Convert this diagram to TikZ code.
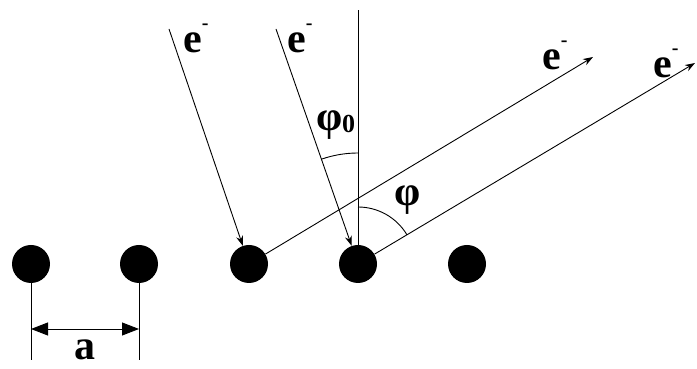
\documentclass[tikz,border=0pt]{standalone}
\usepackage{fontspec}
\setmainfont{Liberation Serif}
\usetikzlibrary{arrows.meta}
\begin{document}
\begin{tikzpicture}[x=1pt,y=1pt,
  atom/.style={circle,fill=black,inner sep=0pt,minimum size=38pt},
  ray/.style={line width=0.9pt,-{Stealth[length=10pt,width=7pt]}},
  thin line/.style={line width=0.9pt},
  lbl/.style={inner sep=0pt,font=\fontsize{42}{42}\selectfont\bfseries},
  dim/.style={line width=0.9pt,{Triangle[length=17pt,width=13pt]}-{Triangle[length=17pt,width=13pt]}}]
\useasboundingbox (0,0) rectangle (697,369);
% atoms
\node[atom] (d1) at (31,105) {};
\node[atom] (d2) at (139,105) {};
\node[atom] (d3) at (249,105) {};
\node[atom] (d4) at (358,105) {};
\node[atom] (d5) at (467,105) {};
% coordinates
\coordinate (s1) at (169,340);
\coordinate (s2) at (276,340);
\coordinate (t1) at (593,312);
\coordinate (t2) at (695,306);
\coordinate (top) at (358,359);
\coordinate (b1) at (31,9);
\coordinate (b2) at (139,9);
\coordinate (m1) at (31,40);
\coordinate (m2) at (139,40);
% normal
\draw[thin line] (d4.north) -- (top);
% incident rays
\draw[ray] (s1) -- (d3);
\draw[ray] (s2) -- (d4);
% outgoing rays
\draw[ray] (d3) -- (t1);
\draw[ray] (d4) -- (t2);
% angle arcs
\draw[thin line] ([shift={(90:111)}]d4.center) arc[start angle=90,end angle=109.2,radius=111];
\draw[thin line] ([shift={(90:57)}]d4.center) arc[start angle=90,end angle=30.7,radius=57];
% dimension
\draw[thin line] (d1.south) -- (b1);
\draw[thin line] (d2.south) -- (b2);
\draw[dim] (m1) -- (m2);
% labels
\node[lbl] (e1) at (196,331) {e\raisebox{0.55em}{\fontsize{20}{20}\selectfont -}};
\node[lbl] (e2) at (300,331) {e\raisebox{0.55em}{\fontsize{20}{20}\selectfont -}};
\node[lbl] (e3) at (555,314) {e\raisebox{0.55em}{\fontsize{20}{20}\selectfont -}};
\node[lbl] (e4) at (666,306) {e\raisebox{0.55em}{\fontsize{20}{20}\selectfont -}};
\node[lbl] (phi0) at (336,244) {φ\kern-1pt\raisebox{-0.05em}{\fontsize{26}{26}\selectfont 0}};
\node[lbl] (phi) at (408,169) {φ};
\node[lbl] (a) at (85,19) {a};
\end{tikzpicture}
\end{document}
